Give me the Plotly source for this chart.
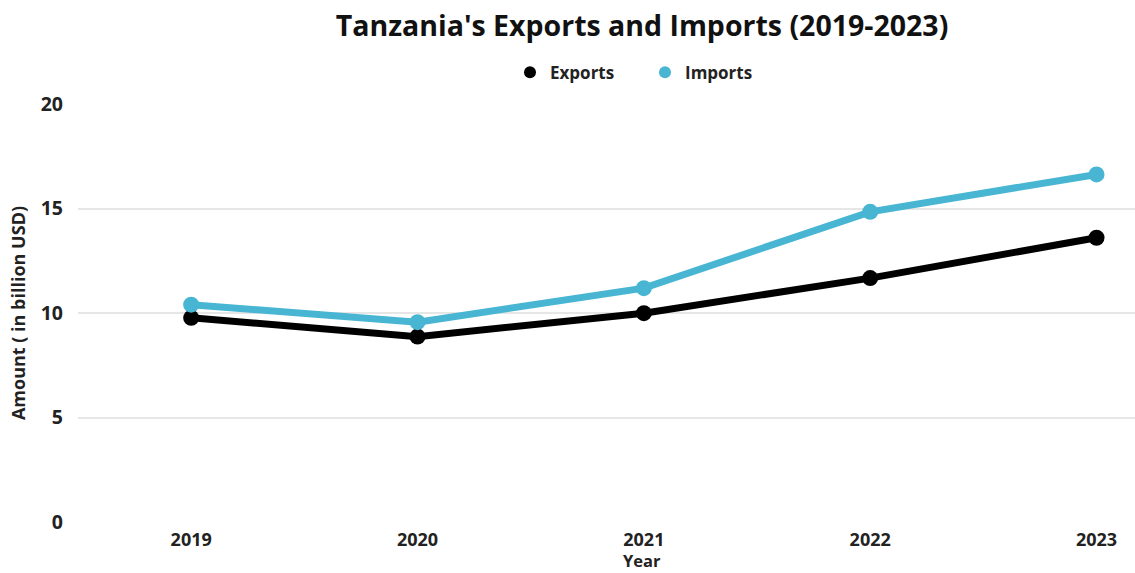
import plotly.graph_objects as go

years = ["2019", "2020", "2021", "2022", "2023"]
exports = [9.77, 8.87, 9.99, 11.67, 13.6]
imports = [10.4, 9.56, 11.19, 14.84, 16.63]
y_ticks = [0, 5, 10, 15, 20]

EXP_COLOR = "#000000"
IMP_COLOR = "#48B6D3"
FONT = "Open Sans"
TXT = "#222222"

fig = go.Figure()
fig.add_trace(go.Scatter(x=years, y=exports, mode="lines+markers", name="Exports",
                         line=dict(color=EXP_COLOR, width=7),
                         marker=dict(size=16, color=EXP_COLOR),
                         showlegend=False, cliponaxis=False))
fig.add_trace(go.Scatter(x=years, y=imports, mode="lines+markers", name="Imports",
                         line=dict(color=IMP_COLOR, width=7),
                         marker=dict(size=16, color=IMP_COLOR),
                         showlegend=False, cliponaxis=False))
# legend entries (markers only)
fig.add_trace(go.Scatter(x=[None], y=[None], mode="markers", name="<b>Exports</b>",
                         marker=dict(size=18, color=EXP_COLOR)))
fig.add_trace(go.Scatter(x=[None], y=[None], mode="markers", name="<b>Imports</b>",
                         marker=dict(size=18, color=IMP_COLOR)))

PL, PR = 78, 1135  # plot area pixel bounds
def px2paper(px):
    return (px - PL) / (PR - PL)

fig.update_layout(
    width=1135, height=573,
    paper_bgcolor="white", plot_bgcolor="white",
    margin=dict(l=PL, r=0, t=104, b=51),
    font=dict(family=FONT, color=TXT),
    title=dict(text="<b>Tanzania's Exports and Imports (2019-2023)</b>",
               x=642/1135, xanchor="center", y=0.955, yanchor="middle",
               font=dict(size=28.5, color="#111111", family=FONT)),
    legend=dict(orientation="h", x=px2paper(645), xanchor="center", y=1.075, yanchor="middle",
                font=dict(size=17, color=TXT, family=FONT),
                entrywidth=90, entrywidthmode="pixels",
                itemsizing="constant", bgcolor="rgba(0,0,0,0)"),
    xaxis=dict(type="category", range=[-0.5, 4.17],
               showgrid=False, showline=False, zeroline=False,
               tickvals=years, ticktext=[f"<b>{y}</b>" for y in years],
               tickfont=dict(size=18, color=TXT, family=FONT),
               ticks="", ticklabelstandoff=5),
    yaxis=dict(range=[0, 20], tickvals=y_ticks, ticktext=[f"<b>{v}</b>" for v in y_ticks],
               showgrid=True, gridcolor="#E6E6E6", gridwidth=2,
               zeroline=False, showline=False, ticks="",
               tickfont=dict(size=19.5, color=TXT, family=FONT),
               ticklabelstandoff=14,
               title=dict(text="<b>Amount ( in billion USD)</b>",
                          font=dict(size=18, color=TXT, family=FONT), standoff=10)),
    annotations=[dict(text="<b>Year</b>", x=px2paper(642), xref="paper", xanchor="center",
                      y=0, yref="paper", yanchor="middle", yshift=-38,
                      showarrow=False,
                      font=dict(size=16.5, color=TXT, family=FONT))],
)

fig.write_html("out.html")
